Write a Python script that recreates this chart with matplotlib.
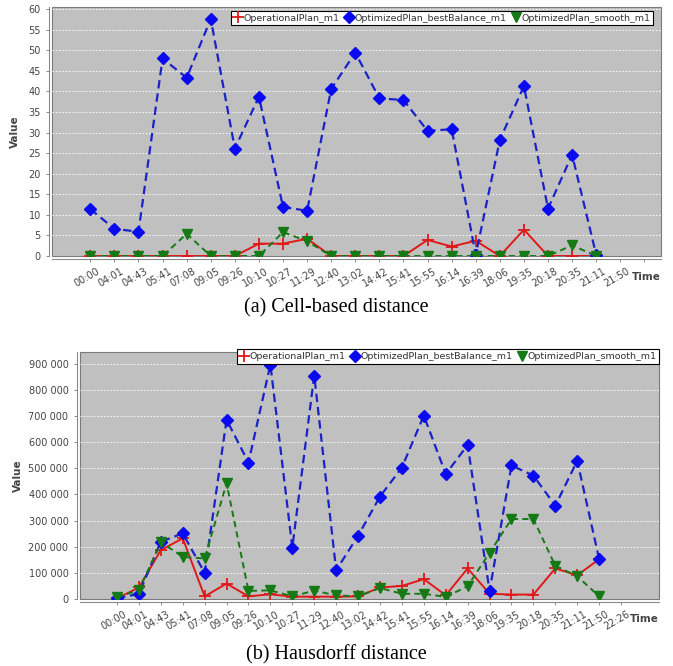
import numpy as np
import matplotlib
matplotlib.use("Agg")
import matplotlib.pyplot as plt
from matplotlib.lines import Line2D
from matplotlib.ticker import FuncFormatter, MultipleLocator
import matplotlib.transforms as mtransforms

# Time categories on the x axis (bottom chart has one extra slot at the end)
times = ["00:00", "04:01", "04:43", "05:41", "07:08", "09:05", "09:26", "10:10",
         "10:27", "11:29", "12:40", "13:02", "14:42", "15:41", "15:55", "16:14",
         "16:39", "18:06", "19:35", "20:18", "20:35", "21:11", "21:50", "22:26"]

# (a) Cell-based distance, 22 points
cell_operational = [0, 0, 0, 0, 0, 0, 0, 3.0, 3.0, 4.2, 0, 0,
                    0, 0, 3.9, 2.3, 3.7, 0, 6.4, 0, 0, 0]
cell_balance = [11.4, 6.6, 5.9, 48.0, 43.3, 57.6, 26.1, 38.7, 11.9, 11.0, 40.6, 49.4,
                38.3, 37.9, 30.4, 30.8, 0.3, 28.2, 41.3, 11.5, 24.6, 0.3]
cell_smooth = [0, 0, 0, 0, 5.4, 0, 0, 0, 5.8, 3.6, 0, 0,
               0, 0, 0, 0, 0, 0, 0, 0, 2.6, 0]

# (b) Hausdorff distance, 23 points
haus_operational = [2000, 44000, 187000, 232000, 10000, 59000, 10000, 18000, 9000, 9000, 9000, 10000,
                    44000, 50000, 76000, 14000, 117000, 20000, 17000, 17000, 117000, 91000, 152000]
haus_balance = [2000, 20000, 219000, 251000, 100000, 686000, 522000, 897000, 197000, 855000, 110000, 242000,
                392000, 503000, 702000, 478000, 589000, 31000, 511000, 472000, 357000, 529000, 152000]
haus_smooth = [8000, 33000, 218000, 161000, 155000, 443000, 31000, 33000, 10000, 32000, 14000, 10000,
               42000, 20000, 20000, 8000, 49000, 177000, 306000, 306000, 127000, 87000, 10000]

series_names = ["OperationalPlan_m1", "OptimizedPlan_bestBalance_m1", "OptimizedPlan_smooth_m1"]

RED = "#e01818"
BLUE = "#0a0af0"
BLUE_LINE = "#1a22c8"
GREEN = "#157a15"
BG = "#c0c0c0"
TXT = "#444444"
AXC = "#8a8a8a"


def style_axes(ax):
    ax.set_facecolor(BG)
    ax.patch.set_edgecolor("#7a7a7a")
    ax.patch.set_linewidth(0.8)
    for s in ["top", "right"]:
        ax.spines[s].set_visible(False)
    for s in ["left", "bottom"]:
        ax.spines[s].set_color(AXC)
        ax.spines[s].set_linewidth(0.8)
        ax.spines[s].set_position(("outward", 2))
    ax.grid(axis="y", color="white", linestyle=(0, (2, 2)), linewidth=0.6)
    ax.set_axisbelow(True)
    ax.tick_params(axis="both", colors=AXC, labelcolor=TXT, labelsize=7,
                   length=2.5, width=0.7)
    ax.tick_params(axis="x", pad=2.5)


def draw(ax, op, bal, smo):
    ax.plot(np.arange(len(op)), op, color=RED, lw=1.4, marker="+", ms=8, mew=1.3, zorder=3)
    ax.plot(np.arange(len(bal)), bal, color=BLUE_LINE, lw=1.6, ls=(0, (3.8, 2.2)),
            marker="D", ms=6, mfc=BLUE, mec=BLUE, zorder=4)
    ax.plot(np.arange(len(smo)), smo, color=GREEN, lw=1.4, ls=(0, (3.2, 2.2)),
            marker="v", ms=7.5, mfc=GREEN, mec=GREEN, zorder=5)


def set_time_axis(ax, labels):
    ax.set_xticks(np.arange(len(labels)))
    ax.set_xticklabels(labels, rotation=30, ha="right", va="top",
                       rotation_mode="anchor")
    shift = mtransforms.ScaledTranslation(6 / 100, 0, ax.figure.dpi_scale_trans)
    for lab in ax.get_xticklabels():
        lab.set_transform(lab.get_transform() + shift)


def add_legend(ax, anchor):
    handles = [
        Line2D([], [], color=RED, marker="+", ms=8, mew=1.3, ls="none"),
        Line2D([], [], color=BLUE, marker="D", ms=6, ls="none"),
        Line2D([], [], color=GREEN, marker="v", ms=7.5, ls="none"),
    ]
    leg = ax.legend(handles, series_names, loc="upper right", bbox_to_anchor=anchor,
                    ncol=3, fontsize=6.8, frameon=True, fancybox=False,
                    handlelength=0.9, handletextpad=0.15, columnspacing=0.5,
                    borderpad=0.3, borderaxespad=0)
    leg.get_frame().set_edgecolor("black")
    leg.get_frame().set_linewidth(0.8)
    leg.get_frame().set_alpha(1)
    for t in leg.get_texts():
        t.set_color("#333333")
    leg.set_zorder(10)


fig = plt.figure(figsize=(6.73, 6.66), dpi=100)

# (a) Cell-based distance
ax1 = fig.add_axes([52 / 673, 1 - 256 / 666, 609 / 673, 249 / 666])
style_axes(ax1)
draw(ax1, cell_operational, cell_balance, cell_smooth)
ax1.set_ylim(0, 60.5)
ax1.set_xlim(-1.59, 23.69)
ax1.yaxis.set_major_locator(MultipleLocator(5))
set_time_axis(ax1, times[:23] + [""])
ax1.set_ylabel("Value", fontsize=7.5, fontweight="bold", color=TXT, labelpad=6)
ax1.text(1.0, -0.085, "Time", transform=ax1.transAxes, fontsize=7.5,
         fontweight="bold", color=TXT, ha="right", va="center")
add_legend(ax1, (0.987, 0.985))

# (b) Hausdorff distance
ax2 = fig.add_axes([79.5 / 673, 1 - 599 / 666, 579.5 / 673, 247 / 666])
style_axes(ax2)
draw(ax2, haus_operational, haus_balance, haus_smooth)
ax2.set_ylim(0, 945000)
ax2.set_xlim(-1.71, 24.73)
ax2.yaxis.set_major_locator(MultipleLocator(100000))
ax2.yaxis.set_major_formatter(FuncFormatter(lambda v, p: f"{int(v):,}".replace(",", " ")))
set_time_axis(ax2, times)
ax2.set_ylabel("Value", fontsize=7.5, fontweight="bold", color=TXT, labelpad=4)
ax2.text(1.0, -0.08, "Time", transform=ax2.transAxes, fontsize=7.5,
         fontweight="bold", color=TXT, ha="right", va="center")
add_legend(ax2, (1.0, 1.012))

fig.text(0.5, 1 - 308 / 666, "(a) Cell-based distance", ha="center", va="center",
         fontsize=14.5, family="Liberation Serif")
fig.text(0.5, 1 - 655 / 666, "(b) Hausdorff distance", ha="center", va="center",
         fontsize=14.5, family="Liberation Serif")

fig.savefig("out.png", dpi=100, facecolor="white")
